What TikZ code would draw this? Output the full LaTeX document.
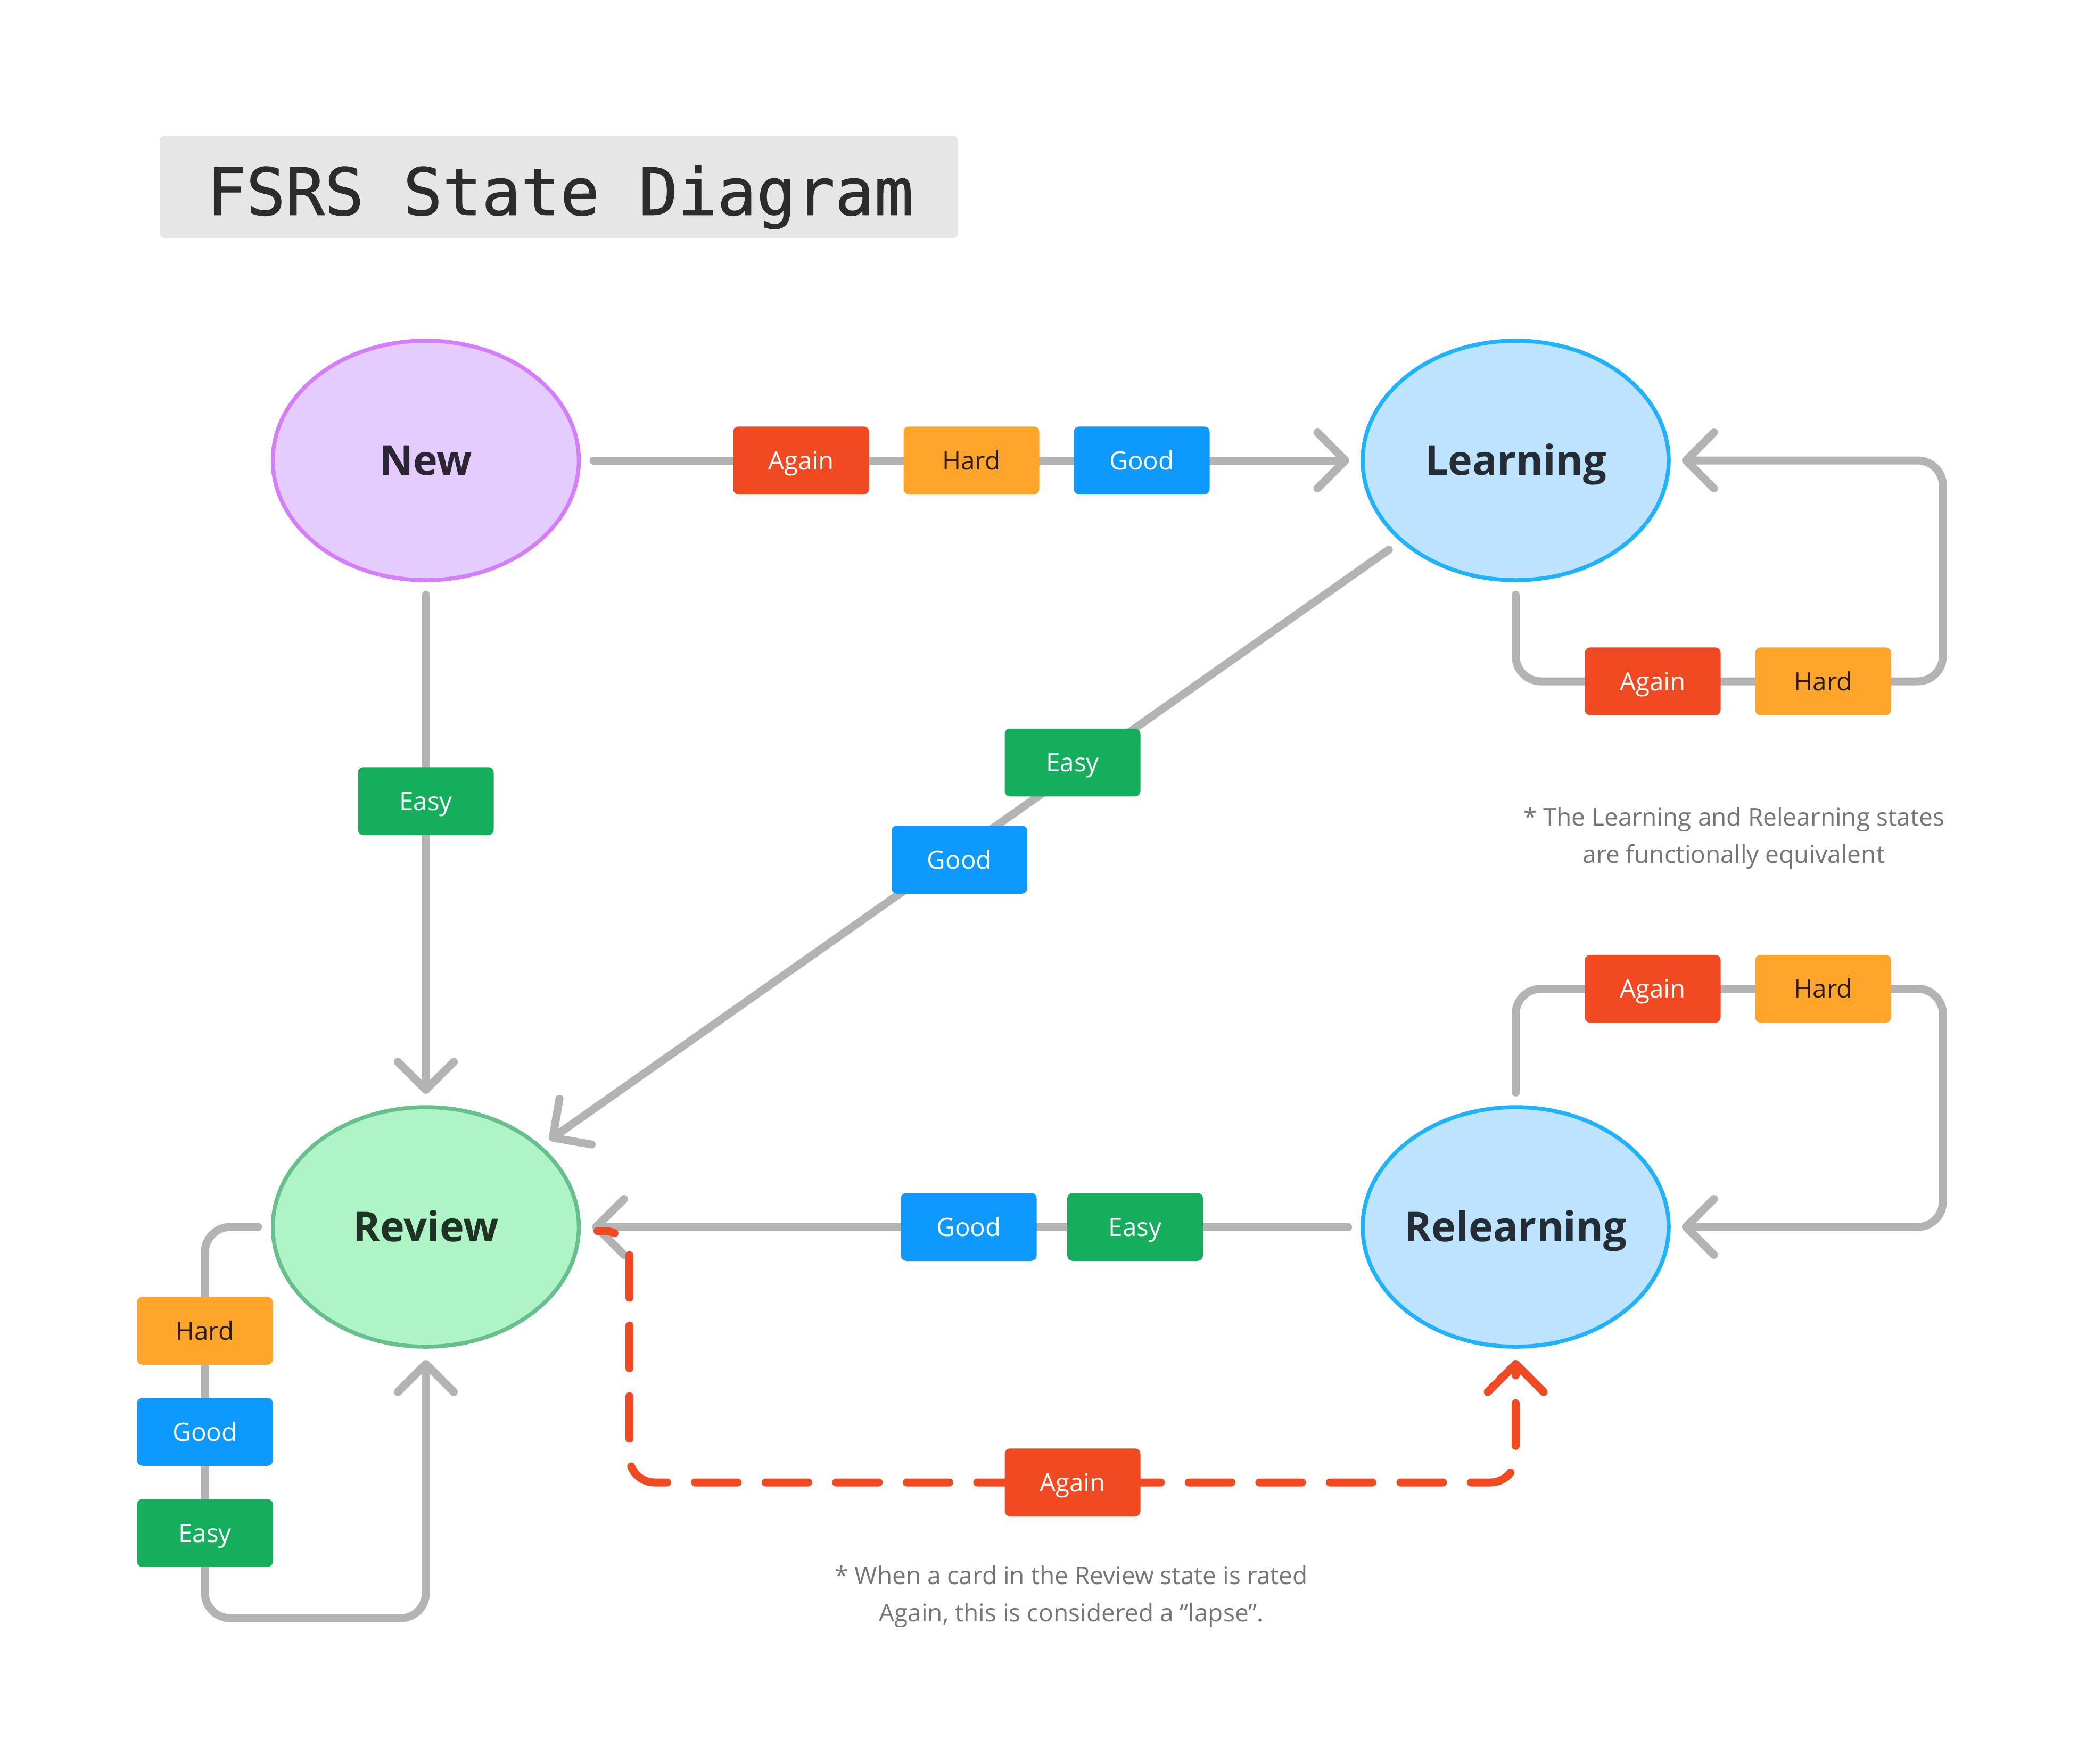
\documentclass[tikz,border=0pt]{standalone}
\usepackage{fontspec}
\setmainfont{Open Sans}
\newfontfamily\titlefont[FakeBold=0.9]{DejaVu Sans Mono}
\usetikzlibrary{arrows.meta,shapes.geometric,backgrounds}
\definecolor{linegray}{HTML}{B3B3B3}
\definecolor{againc}{HTML}{F14A22}
\definecolor{hardc}{HTML}{FFA62A}
\definecolor{goodc}{HTML}{0D99FF}
\definecolor{easyc}{HTML}{14AE5C}
\definecolor{hardtxt}{HTML}{2A1E0A}
\definecolor{titlebg}{HTML}{E6E6E6}
\definecolor{titletxt}{HTML}{2C2C2C}
\definecolor{notetxt}{HTML}{757575}
\definecolor{newfill}{HTML}{E4CCFF}
\definecolor{newdraw}{HTML}{D57DFF}
\definecolor{newtxt}{HTML}{2C2533}
\definecolor{learnfill}{HTML}{BDE3FF}
\definecolor{learndraw}{HTML}{1FB2FF}
\definecolor{learntxt}{HTML}{252C33}
\definecolor{revfill}{HTML}{AFF4C6}
\definecolor{revdraw}{HTML}{66C08D}
\definecolor{revtxt}{HTML}{1F3324}
\newcommand{\stname}[1]{\makebox[0pt][c]{#1}}
\tikzset{
  stnode/.style={ellipse, minimum width=230pt, minimum height=180pt, inner sep=0pt, outer sep=0pt,
    line width=3pt, text height=22pt, text depth=0pt, font=\fontsize{31}{36}\selectfont\bfseries},
  lab/.style={rectangle, rounded corners=4pt, minimum width=102pt, minimum height=51pt, inner sep=0pt,
    text height=13.6pt, text depth=0pt, font=\fontsize{19}{23}\selectfont},
  againlab/.style={lab, fill=againc, text=white},
  hardlab/.style={lab, fill=hardc, text=hardtxt},
  goodlab/.style={lab, fill=goodc, text=white},
  easylab/.style={lab, fill=easyc, text=white},
  chev/.tip={Straight Barb[length=21pt, width=42pt, round]},
  conn/.style={draw=linegray, line width=6pt, line cap=round, line join=round,
    shorten <=11pt, shorten >=10pt, -chev},
  selfloop/.style={conn, rounded corners=19pt},
  lapse/.style={draw=againc, line width=6pt, line cap=round, line join=round,
    dash pattern=on 32pt off 21pt, dash phase=19pt, rounded corners=19pt, shorten >=10pt, -chev},
  note/.style={align=center, text=notetxt, font=\fontsize{18.4}{28}\selectfont, inner sep=0pt},
}
\begin{document}
\begin{tikzpicture}[x=1pt, y=-1pt]
\useasboundingbox (0,0) rectangle (1567.6,1325.2);

% title
\node[fill=titlebg, rounded corners=4pt, minimum width=600pt, minimum height=77pt, inner sep=0pt] (titlebox) at (420,140.5) {};
\node[anchor=base, inner sep=0pt, text=titletxt, font=\titlefont\fontsize{49}{55}\selectfont] (title) at (421,161.5) {FSRS State Diagram};

% states
\node[stnode, fill=newfill, draw=newdraw, text=newtxt] (new) at (320,346) {\stname{New}};
\node[stnode, fill=learnfill, draw=learndraw, text=learntxt] (learn) at (1139,346) {\stname{Learning}};
\node[stnode, fill=revfill, draw=revdraw, text=revtxt] (review) at (320,922) {\stname{Review}};
\node[stnode, fill=learnfill, draw=learndraw, text=learntxt] (relearn) at (1139,922) {\stname{Relearning}};

% labels
\node[againlab] (nA) at (602,346) {Again};
\node[hardlab]  (nH) at (730,346) {Hard};
\node[goodlab]  (nG) at (858,346) {Good};
\node[easylab]  (nE) at (320,602) {Easy};
\node[easylab]  (dE) at (806,573) {Easy};
\node[goodlab]  (dG) at (721,646) {Good};
\node[againlab] (lA) at (1242,512) {Again};
\node[hardlab]  (lH) at (1370,512) {Hard};
\node[againlab] (rA) at (1242,743) {Again};
\node[hardlab]  (rH) at (1370,743) {Hard};
\node[goodlab]  (rG) at (728,922) {Good};
\node[easylab]  (rE) at (853,922) {Easy};
\node[hardlab]  (vH) at (154,1000) {Hard};
\node[goodlab]  (vG) at (154,1076) {Good};
\node[easylab]  (vE) at (154,1152) {Easy};
\node[againlab] (xA) at (806,1114) {Again};

% notes
\node[note, anchor=base] (note1) at (1303,648.5) {* The Learning and Relearning states\\are functionally equivalent};
\node[note, anchor=base] (note2) at (805,1218.5) {* When a card in the Review state is rated\\Again, this is considered a “lapse”.};

% corner coordinates
\coordinate (lcorner) at (1460,512);
\coordinate (rcorner) at (1460,743);
\coordinate (vcorner) at (154,1216);
\coordinate (lapsestart) at (449,925);
\coordinate (lapsecorner) at (473,1114);

\begin{scope}[on background layer]
  \fill[white] (0,0) rectangle (1567.6,1325.2);
  \draw[conn] (new) -- (learn);
  \draw[conn] (new) -- (review);
  \draw[conn, shorten <=12pt, shorten >=9pt] (learn) -- (review);
  \draw[conn] (relearn) -- (review);
  \draw[selfloop] (learn.south) |- (lcorner) |- (learn.east);
  \draw[selfloop] (relearn.north) |- (rcorner) |- (relearn.east);
  \draw[selfloop] (review.west) -| (vcorner) -| (review.south);
  \draw[lapse] (lapsestart) -| (lapsecorner) -| (relearn.south);
\end{scope}
\end{tikzpicture}
\end{document}
